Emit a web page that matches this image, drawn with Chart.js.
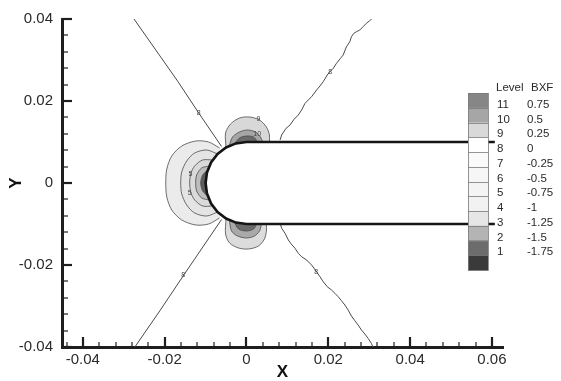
<!DOCTYPE html>
<html lang="en">
<head>
<meta charset="UTF-8">
<meta name="viewport" content="width=device-width, initial-scale=1.0">
<title>BXF contours</title>
<script src="https://cdn.jsdelivr.net/npm/chart.js@4"></script>
<style>
    html, body { margin: 0; padding: 0; background: #fff; }
</style>
</head>
<body>

<canvas id="bxfChart" width="561" height="381"></canvas>

<script>
    // axis ticks
    const xTicks = [-0.04, -0.02, 0, 0.02, 0.04, 0.06];
    const yTicks = [-0.04, -0.02, 0, 0.02, 0.04];

    // contour legend
    const levelIds = [11, 10, 9, 8, 7, 6, 5, 4, 3, 2, 1];
    const levelBXF = [0.75, 0.5, 0.25, 0, -0.25, -0.5, -0.75, -1, -1.25, -1.5, -1.75];

    // body outline (flat plate with round nose), [x, y]
    const bodyOutline = [
        [0.0607, 0.01], [0, 0.01], [-0.00259, 0.00966], [-0.005, 0.00866], [-0.00707, 0.00707],
        [-0.00866, 0.005], [-0.00966, 0.00259], [-0.01, 0], [-0.00966, -0.00259], [-0.00866, -0.005],
        [-0.00707, -0.00707], [-0.005, -0.00866], [-0.00259, -0.00966], [0, -0.01], [0.0607, -0.01]
    ];

    // level 8 contour lines
    const line8UpperLeft = [[-0.0277, 0.0403], [-0.0168, 0.0248], [-0.0117, 0.0171], [-0.0061, 0.0089]];
    const line8LowerLeft = [[-0.0061, -0.0089], [-0.0153, -0.0224], [-0.0212, -0.0312], [-0.0275, -0.0403]];
    const line8UpperRight = [
        [0.00821, 0.01049], [0.00860, 0.01171], [0.00967, 0.01334], [0.01065, 0.01415], [0.01162, 0.01554],
        [0.01267, 0.01659], [0.01347, 0.01780], [0.01430, 0.01944], [0.01510, 0.02024], [0.01591, 0.02105],
        [0.01713, 0.02268], [0.01796, 0.02366], [0.01876, 0.02471], [0.01973, 0.02634], [0.02039, 0.02715],
        [0.02120, 0.02798], [0.02200, 0.02920], [0.02298, 0.03041], [0.02363, 0.03122], [0.02443, 0.03324],
        [0.02526, 0.03446], [0.02565, 0.03568], [0.02624, 0.03651], [0.02687, 0.03690], [0.02770, 0.03732],
        [0.02850, 0.03812], [0.02931, 0.03895], [0.03013, 0.03959], [0.03077, 0.04020]
    ];
    const line8LowerRight = [
        [0.00821, -0.00983], [0.00860, -0.01105], [0.00943, -0.01227], [0.01023, -0.01390], [0.01079, -0.01471],
        [0.01186, -0.01593], [0.01267, -0.01715], [0.01347, -0.01798], [0.01469, -0.01878], [0.01591, -0.02000],
        [0.01713, -0.02163], [0.01795, -0.02285], [0.01876, -0.02407], [0.01973, -0.02529], [0.02078, -0.02610],
        [0.02161, -0.02690], [0.02241, -0.02773], [0.02322, -0.02871], [0.02404, -0.02976], [0.02485, -0.03098],
        [0.02565, -0.03244], [0.02648, -0.03358], [0.02728, -0.03463], [0.02809, -0.03585], [0.02892, -0.03683],
        [0.02972, -0.03788], [0.03052, -0.03910], [0.03094, -0.04010]
    ];

    // lobe in front of the nose (levels 7 .. 2)
    const noseLobe7 = [
        [-0.00658, 0.00854], [-0.00926, 0.01], [-0.01242, 0.01024], [-0.01583, 0.00902], [-0.01827, 0.00659],
        [-0.01949, 0.00341], [-0.01973, 0], [-0.01949, -0.00341], [-0.01827, -0.00659], [-0.01583, -0.00902],
        [-0.01242, -0.01024], [-0.00926, -0.01], [-0.00658, -0.00854]
    ];
    const noseLobe6 = [
        [-0.00706, 0.00707], [-0.00974, 0.00805], [-0.01267, 0.00732], [-0.01462, 0.00537], [-0.01583, 0.00268],
        [-0.01608, 0], [-0.01583, -0.00268], [-0.01462, -0.00537], [-0.01267, -0.00732], [-0.00974, -0.00805],
        [-0.00706, -0.00707]
    ];
    const noseLobe5 = [
        [-0.00828, 0.00561], [-0.01072, 0.00561], [-0.01267, 0.00415], [-0.01364, 0.0022], [-0.01389, 0],
        [-0.01364, -0.0022], [-0.01267, -0.00415], [-0.01072, -0.00561], [-0.00828, -0.00561]
    ];
    const noseLobe3 = [
        [-0.00901, 0.00415], [-0.01096, 0.00366], [-0.01218, 0.00195], [-0.01242, 0],
        [-0.01218, -0.00195], [-0.01096, -0.00366], [-0.00901, -0.00415]
    ];
    const noseLobe2 = [
        [-0.0095, 0.00317], [-0.01072, 0.00195], [-0.0112, 0], [-0.01072, -0.00195], [-0.0095, -0.00317]
    ];

    // lobe above the shoulder (levels 9 .. 11)
    const upperLobe9 = [
        [-0.005, 0.00866], [-0.00512, 0.0122], [-0.0039, 0.01439], [-0.00171, 0.01585], [0.00073, 0.0161],
        [0.00317, 0.01537], [0.00487, 0.01366], [0.0056, 0.01171], [0.0056, 0.01], [0.0056, 0.0095]
    ];
    const upperLobe10 = [
        [-0.0042, 0.0091], [-0.00341, 0.01122], [-0.00171, 0.01244], [0.00024, 0.01293], [0.00219, 0.01244],
        [0.00341, 0.01122], [0.0039, 0.01], [0.0039, 0.0095]
    ];
    const upperLobe11 = [
        [-0.003, 0.0095], [-0.00171, 0.01098], [0, 0.01146], [0.00171, 0.01122], [0.00268, 0.01], [0.00268, 0.0095]
    ];

    // lobe below the shoulder
    const lowerLobe4 = [
        [-0.005, -0.00866], [-0.00512, -0.01244], [-0.00414, -0.01463], [-0.00195, -0.01585], [0.00049, -0.0161],
        [0.00292, -0.01537], [0.00438, -0.01366], [0.00487, -0.01171], [0.00487, -0.01], [0.00487, -0.0095]
    ];
    const lowerLobe3 = [
        [-0.0042, -0.0091], [-0.00365, -0.01171], [-0.00219, -0.01293], [0, -0.01341], [0.00195, -0.01293],
        [0.00317, -0.01171], [0.00365, -0.01], [0.00365, -0.0095]
    ];
    const lowerLobe2 = [
        [-0.003, -0.0095], [-0.00195, -0.01122], [0, -0.01171], [0.00171, -0.01122], [0.00244, -0.01], [0.00244, -0.0095]
    ];

    // contour labels [x, y, text]
    const contourLabels = [
        [-0.0117, 0.0171, '8'], [0.02046, 0.02707, '8'], [-0.0155, -0.0224, '8'], [0.01705, -0.0217, '8'],
        [0.0029, 0.0157, '9'], [0.0026, 0.0119, '10'], [-0.0137, 0.0022, '5'], [-0.0139, -0.0024, '5']
    ];

    const FONT = '"Liberation Sans", Arial, Helvetica, sans-serif';
    const toXY = pts => pts.map(p => ({x: p[0], y: p[1]}));

    const region = (pts, color) => ({
        data: toXY(pts), backgroundColor: color, borderColor: '#4a4a4a',
        borderWidth: 0.8, fill: 'shape', pointRadius: 0, tension: 0.3
    });
    const contour = pts => ({
        data: toXY(pts), borderColor: '#4a4a4a', borderWidth: 1,
        fill: false, pointRadius: 0, tension: 0
    });

    // listed bottom layer first
    const layers = [
        region(noseLobe7, '#ebebeb'),
        region(noseLobe6, '#e4e4e4'),
        region(noseLobe5, '#dadada'),
        region(noseLobe3, '#bdbdbd'),
        region(noseLobe2, '#5c5c5c'),
        region(upperLobe9, '#d8d8d8'),
        region(upperLobe10, '#a6a6a6'),
        region(upperLobe11, '#6a6a6a'),
        region(lowerLobe4, '#dcdcdc'),
        region(lowerLobe3, '#a9a9a9'),
        region(lowerLobe2, '#6a6a6a'),
        contour(line8UpperLeft),
        contour(line8LowerLeft),
        contour(line8UpperRight),
        contour(line8LowerRight),
        {
            data: toXY(bodyOutline), backgroundColor: '#ffffff', borderColor: '#151515',
            borderWidth: 2.6, fill: 'shape', pointRadius: 0, tension: 0
        }
    ];
    layers.forEach((ds, i) => { ds.order = layers.length - i; });

    const decor = {
        id: 'decor',
        afterDatasetsDraw(chart) {
            const ctx = chart.ctx;
            const xs = chart.scales.x, ys = chart.scales.y;
            ctx.save();
            // contour labels
            ctx.font = '7px ' + FONT;
            ctx.textAlign = 'center';
            ctx.textBaseline = 'middle';
            ctx.fillStyle = '#444';
            contourLabels.forEach(l => {
                ctx.fillText(l[2], xs.getPixelForValue(l[0]), ys.getPixelForValue(l[1]));
            });
            // colour bar legend
            const left = 468, top = 93, w = 20, h = 177;
            const cols = ['#868686', '#a6a6a6', '#d9d9d9', '#ffffff', '#fafafa', '#f6f6f6',
                '#f4f4f4', '#f2f2f2', '#e6e6e6', '#b4b4b4', '#6c6c6c', '#3a3a3a'];
            const bh = h / cols.length;
            cols.forEach((c, i) => {
                ctx.fillStyle = c;
                ctx.fillRect(left, top + i * bh, w, bh + 0.5);
            });
            ctx.strokeStyle = '#7a7a7a';
            ctx.lineWidth = 0.8;
            for (let i = 1; i < cols.length; i++) {
                const y = Math.round(top + i * bh) + 0.5;
                ctx.beginPath();
                ctx.moveTo(left, y);
                ctx.lineTo(left + w, y);
                ctx.stroke();
            }
            ctx.strokeRect(left + 0.5, top + 0.5, w, h);
            ctx.fillStyle = '#2a2a2a';
            ctx.font = '11.5px ' + FONT;
            ctx.textAlign = 'left';
            ctx.textBaseline = 'middle';
            ctx.fillText('Level', 496, 88);
            ctx.fillText('BXF', 531, 88);
            levelIds.forEach((lv, i) => {
                const y = top + (i + 1) * bh - 3;
                ctx.fillText(String(lv), 497, y);
                ctx.fillText(String(levelBXF[i]), 527, y);
            });
            ctx.restore();
        },
        afterDraw(chart) {
            // inward major / minor tick marks
            const ctx = chart.ctx;
            const xs = chart.scales.x, ys = chart.scales.y;
            const area = chart.chartArea;
            ctx.save();
            ctx.strokeStyle = '#1e1e1e';
            const step = 0.004;
            for (let i = Math.ceil(xs.min / step - 1e-9); i * step <= xs.max + 1e-9; i++) {
                const major = i % 5 === 0;
                const px = Math.round(xs.getPixelForValue(i * step));
                ctx.lineWidth = major ? 2.2 : 1.2;
                ctx.beginPath();
                ctx.moveTo(px, area.bottom);
                ctx.lineTo(px, area.bottom - (major ? 10 : 5));
                ctx.stroke();
            }
            for (let i = Math.ceil(ys.min / step - 1e-9); i * step <= ys.max + 1e-9; i++) {
                const major = i % 5 === 0;
                const py = Math.round(ys.getPixelForValue(i * step));
                ctx.lineWidth = major ? 2.2 : 1.2;
                ctx.beginPath();
                ctx.moveTo(area.left, py);
                ctx.lineTo(area.left + (major ? 10 : 6), py);
                ctx.stroke();
            }
            ctx.restore();
        }
    };

    const ctx = document.getElementById('bxfChart').getContext('2d');
    const chart = new Chart(ctx, {
        type: 'line',
        data: { datasets: layers },
        options: {
            responsive: false,
            animation: false,
            devicePixelRatio: 1,
            layout: { padding: { left: 0, top: 19, right: 58, bottom: 0 } },
            plugins: {
                legend: { display: false },
                tooltip: { enabled: false }
            },
            scales: {
                x: {
                    type: 'linear',
                    min: -0.0451,
                    max: 0.0627,
                    grid: { display: false, drawTicks: false },
                    border: { display: true, width: 3, color: '#1e1e1e' },
                    afterBuildTicks: s => { s.ticks = xTicks.map(v => ({value: v})); },
                    afterFit: s => { s.height = 34; },
                    ticks: {
                        autoSkip: false, maxRotation: 0, padding: 4,
                        color: '#2a2a2a', font: { family: FONT, size: 15 },
                        callback: v => String(v)
                    },
                    title: {
                        display: true, text: 'X', color: '#111',
                        font: { family: FONT, size: 17, weight: 'bold', lineHeight: 1 },
                        padding: { top: 0, bottom: 0 }
                    }
                },
                y: {
                    type: 'linear',
                    min: -0.04,
                    max: 0.04,
                    grid: { display: false, drawTicks: false },
                    border: { display: true, width: 3, color: '#1e1e1e' },
                    afterBuildTicks: s => { s.ticks = yTicks.map(v => ({value: v})); },
                    afterFit: s => { s.width = 62; },
                    ticks: {
                        autoSkip: false, padding: 9,
                        color: '#2a2a2a', font: { family: FONT, size: 15 },
                        callback: v => String(v)
                    },
                    title: {
                        display: true, text: 'Y', color: '#111',
                        font: { family: FONT, size: 17, weight: 'bold', lineHeight: 1 },
                        padding: { top: 8, bottom: 0 }
                    }
                }
            }
        },
        plugins: [decor]
    });
</script>

</body>
</html>
